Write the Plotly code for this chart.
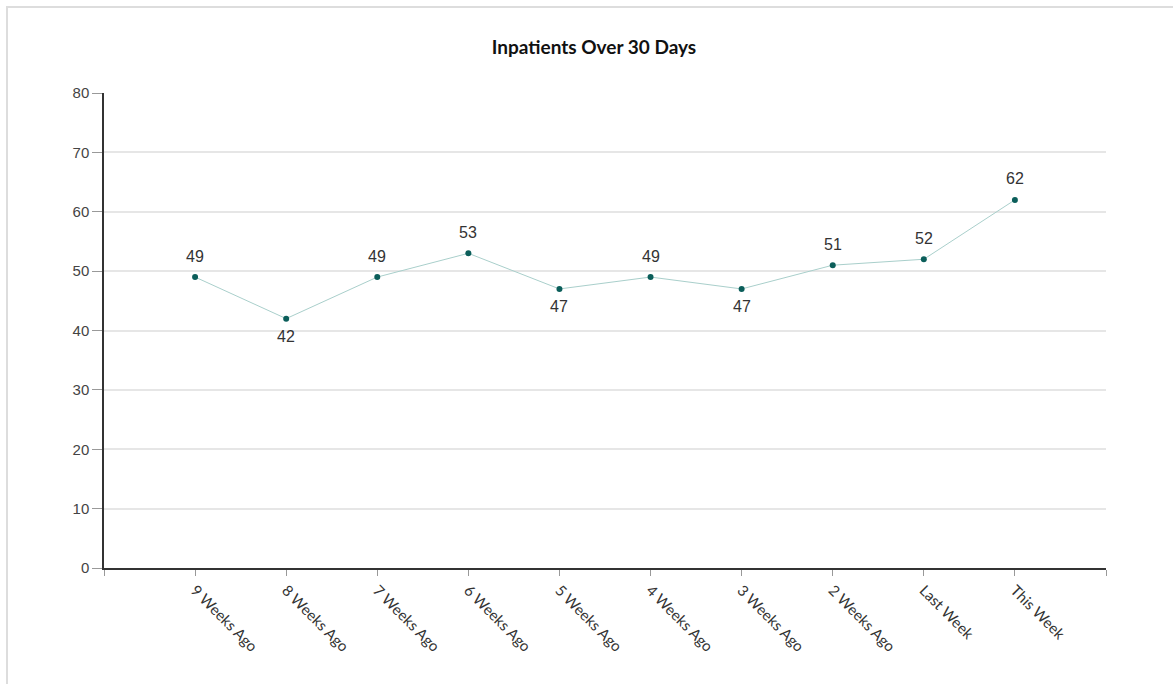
import plotly.graph_objects as go

categories = ["9 Weeks Ago", "8 Weeks Ago", "7 Weeks Ago", "6 Weeks Ago", "5 Weeks Ago",
              "4 Weeks Ago", "3 Weeks Ago", "2 Weeks Ago", "Last Week", "This Week"]
values = [49, 42, 49, 53, 47, 49, 47, 51, 52, 62]
label_above = [True, False, True, True, False, True, False, True, True, True]
y_ticks = [0, 10, 20, 30, 40, 50, 60, 70, 80]

xpos = list(range(1, len(categories) + 1))

fig = go.Figure()
fig.add_trace(go.Scatter(
    x=xpos, y=values, mode="lines+markers",
    line=dict(color="#a9cfcb", width=1),
    marker=dict(color="#0b5e5a", size=6),
    hoverinfo="skip", showlegend=False,
))

annotations = []
for xv, v, up in zip(xpos, values, label_above):
    annotations.append(dict(
        x=xv, y=v, xref="x", yref="y", text=str(v), showarrow=False,
        xanchor="center", yanchor="middle", yshift=21 if up else -18,
        font=dict(family="Liberation Sans, Arial", size=16, color="#333333"),
    ))

W, H = 1173, 684
L, R, T, B = 104, 67, 93, 116
pw, ph = W - L - R, H - T - B

fig.update_layout(
    width=W, height=H,
    margin=dict(l=L, r=R, t=T, b=B, pad=0),
    paper_bgcolor="white", plot_bgcolor="white",
    title=dict(text="<b>Inpatients Over 30 Days</b>", x=594 / W, xanchor="center",
               y=1 - 47 / H, yanchor="middle",
               font=dict(family="Lato, Open Sans", size=19, color="#111111")),
    xaxis=dict(range=[0, 11], tickmode="array", tickvals=list(range(0, 12)),
               ticktext=[""] + categories + [""], tickangle=45,
               showgrid=False, zeroline=False, showline=True, linecolor="#333333", linewidth=1.5,
               ticks="outside", ticklen=6, tickcolor="#999999",
               tickfont=dict(family="Lato, Open Sans", size=15, color="#333333"),
               fixedrange=True),
    yaxis=dict(range=[0, 80], tickmode="array", tickvals=y_ticks,
               showgrid=True, gridcolor="#e6e6e6", gridwidth=1.5, zeroline=False,
               showline=True, linecolor="#333333", linewidth=1.5,
               ticks="outside", ticklen=10, tickcolor="#999999",
               tickfont=dict(family="Liberation Sans, Arial", size=15, color="#444444"),
               fixedrange=True),
    annotations=annotations,
    shapes=[dict(type="rect", xref="paper", yref="paper",
                 x0=(7 - L) / pw, x1=(W + 10 - L) / pw,
                 y0=(H - B - (H + 10)) / ph, y1=(H - B - 7) / ph,
                 line=dict(color="#dddddd", width=2), fillcolor="rgba(0,0,0,0)", layer="below")],
)

fig.write_html("out.html", config={"displayModeBar": False},
               post_script="document.body.style.margin='0';document.body.style.overflow='hidden';")
